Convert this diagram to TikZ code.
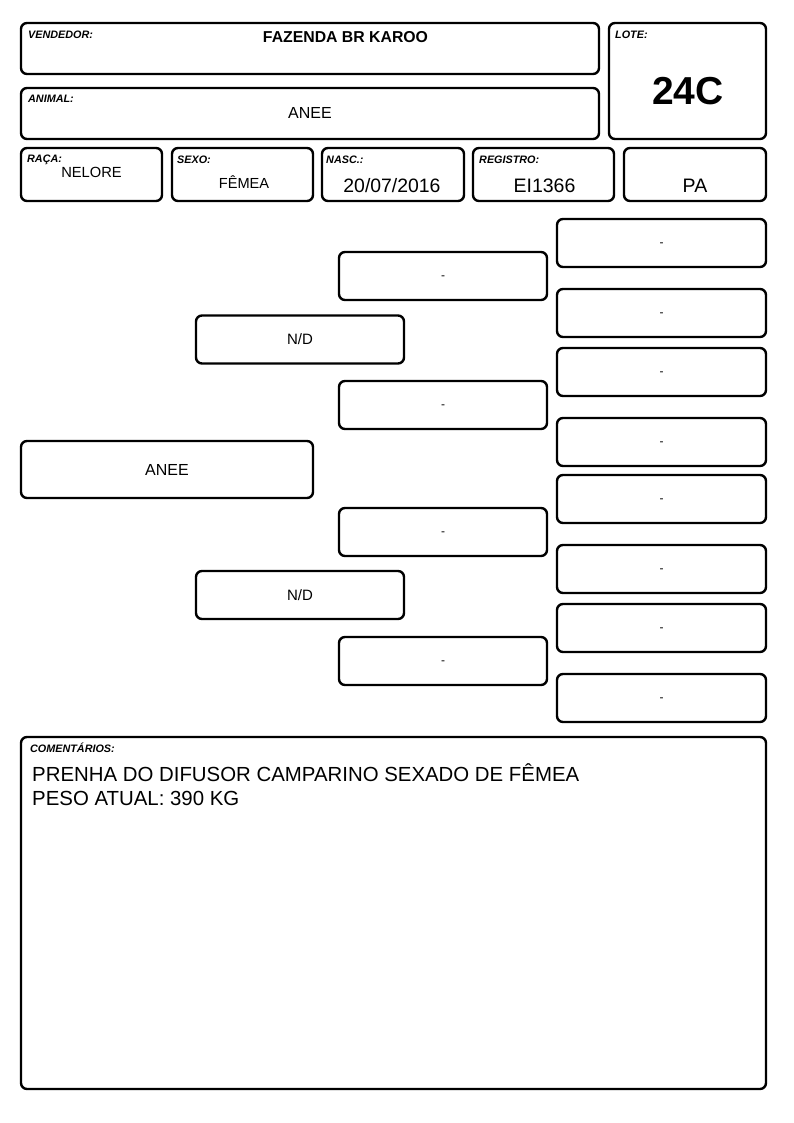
\documentclass[tikz,border=0pt]{standalone}
\usepackage{fontspec}
\setmainfont{Liberation Sans}
\begin{document}
\begin{tikzpicture}[x=1pt,y=-1pt,
  card/.style={draw=black,line width=2.4pt,rounded corners=6pt,fill=white},
  lbl/.style={anchor=base west,inner sep=0pt,font=\fontsize{10.8}{12}\selectfont\bfseries\itshape},
  val/.style={inner sep=0pt,anchor=base}]
\useasboundingbox (0,0) rectangle (794,1123);
% header
\draw[card] (21,23) rectangle (599,74);
\node[lbl] (vendL) at (28,39) {VENDEDOR:};
\node[val,font=\fontsize{15.8}{18}\selectfont\bfseries] (vendV) at (345.5,43) {FAZENDA BR KAROO};
\draw[card] (21,88) rectangle (599,139);
\node[lbl] (animL) at (28,103) {ANIMAL:};
\node[val,font=\fontsize{16}{18}\selectfont] (animV) at (310,119) {ANEE};
\draw[card] (609,23) rectangle (766,139);
\node[lbl] (loteL) at (615,39) {LOTE:};
\node[val,font=\fontsize{39}{41}\selectfont\bfseries] (loteV) at (688,105) {24C};
% row of fields
\draw[card] (21,148) rectangle (162,201);
\node[lbl] (racaL) at (27,163) {RAÇA:};
\node[val,font=\fontsize{14.7}{16}\selectfont] (racaV) at (91.5,178) {NELORE};
\draw[card] (172,148) rectangle (313,201);
\node[lbl] (sexoL) at (177,164) {SEXO:};
\node[val,font=\fontsize{14.6}{16}\selectfont] (sexoV) at (244,189) {FÊMEA};
\draw[card] (322,148) rectangle (464,201);
\node[lbl] (nascL) at (326,164) {NASC.:};
\node[val,font=\fontsize{19.4}{21}\selectfont] (nascV) at (392,193) {20/07/2016};
\draw[card] (473,148) rectangle (614,201);
\node[lbl] (regL) at (479,164) {REGISTRO:};
\node[val,font=\fontsize{19.5}{21}\selectfont] (regV) at (544.5,193) {EI1366};
\draw[card] (624,148) rectangle (766,201);
\node[val,font=\fontsize{19.5}{21}\selectfont] (paV) at (695,193) {PA};
% pedigree
\node[card,minimum width=292pt,minimum height=57pt,inner sep=0pt,text height=11.5pt,text depth=0pt,font=\fontsize{16}{18}\selectfont] (p0) at (167,469.5) {ANEE};
\node[card,minimum width=208pt,minimum height=48pt,inner sep=0pt,text height=10.7pt,text depth=0pt,font=\fontsize{15}{17}\selectfont] (p1) at (300,339.5) {N/D};
\node[card,minimum width=208pt,minimum height=48pt,inner sep=0pt,text height=10.7pt,text depth=0pt,font=\fontsize{15}{17}\selectfont] (p2) at (300,595) {N/D};
\foreach \n/\y in {a/276,b/405,c/532,d/661}{
  \node[card,minimum width=208pt,minimum height=48pt,inner sep=0pt,text height=7pt,text depth=0pt,font=\fontsize{12}{14}\selectfont] (g3\n) at (443,\y) {-};
}
\foreach \n/\y in {a/243,b/313,c/372,d/442,e/499,f/569,g/628,h/698}{
  \node[card,minimum width=209pt,minimum height=48pt,inner sep=0pt,text height=7pt,text depth=0pt,font=\fontsize{12}{14}\selectfont] (g4\n) at (661.5,\y) {-};
}
% comments
\draw[card] (21,737) rectangle (766,1089);
\node[lbl] (comL) at (30,752) {COMENTÁRIOS:};
\node[inner sep=0pt,anchor=base west,font=\fontsize{20.4}{24}\selectfont] (com1) at (32,781) {PRENHA DO DIFUSOR CAMPARINO SEXADO DE FÊMEA};
\node[inner sep=0pt,anchor=base west,font=\fontsize{20.4}{24}\selectfont] (com2) at (32,805) {PESO ATUAL: 390 KG};
\end{tikzpicture}
\end{document}
